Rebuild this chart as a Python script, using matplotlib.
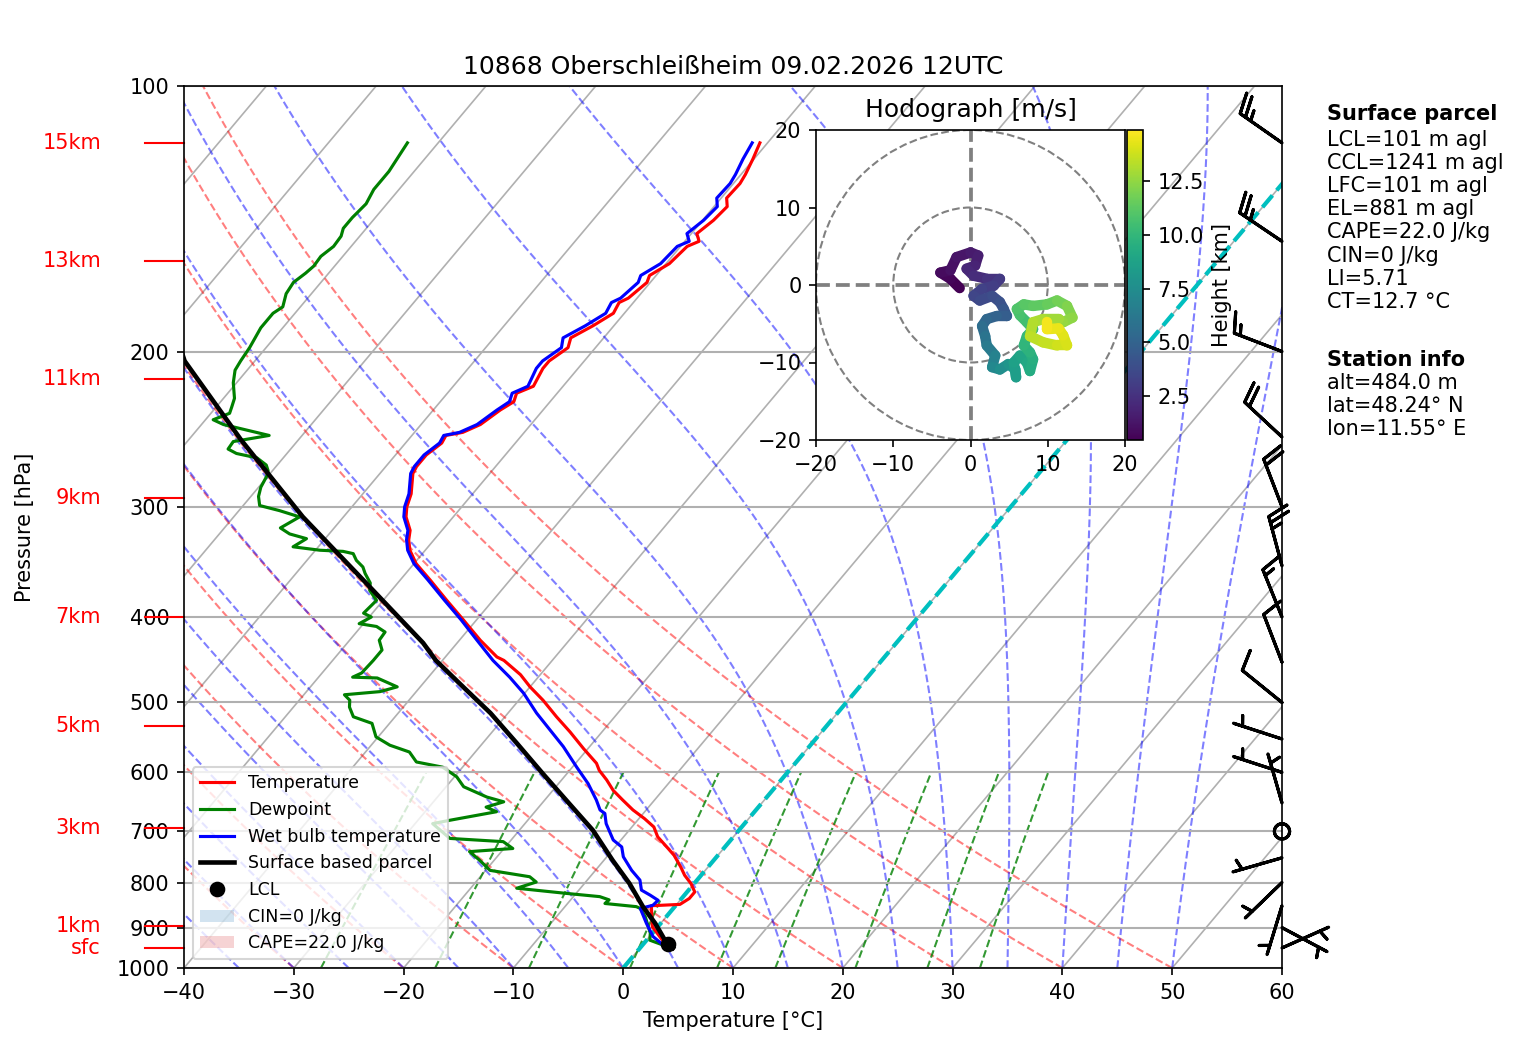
import numpy as np
import matplotlib
matplotlib.use("Agg")
import matplotlib.pyplot as plt
import matplotlib.transforms as mtransforms
from matplotlib.collections import LineCollection
from matplotlib.patches import Patch, Circle

SKEW = 67.5  # x shift in degC per decade of pressure

# Environment temperature
temp_p = [949, 946, 898, 850, 847, 834, 820, 802, 785, 768, 745, 729, 710, 692, 677, 662, 645, 629, 612, 597,
          586, 564, 540, 519, 497, 480, 465, 448, 444, 425, 403, 383, 363, 348, 336, 327, 319, 308, 300, 290,
          275, 270, 262, 254, 249, 247, 242, 233, 228, 223, 219, 209, 205, 198, 193, 187, 181, 176, 174, 167,
          164, 159, 152, 150, 147, 142, 137, 134, 129, 126, 121, 116]
temp_T = [3.0, 2.4, -0.5, -2.2, 0.3, 0.7, 0.7, -0.3, -1.5, -2.5, -4.0, -5.3, -6.9, -8.0, -9.5, -11.2, -12.9, -14.5, -15.9, -17.3,
          -18.1, -20.4, -22.9, -25.3, -27.8, -30.0, -31.8, -34.4, -35.3, -38.1, -41.2, -44.2, -47.3, -49.8, -51.4, -52.3, -52.9, -54.3, -55.0, -55.6,
          -57.0, -57.2, -57.2, -56.7, -56.9, -55.6, -54.6, -53.9, -53.3, -53.7, -52.7, -53.2, -53.2, -52.5, -53.0, -51.9, -51.0, -51.3, -50.8, -50.3,
          -50.6, -49.7, -49.4, -48.7, -49.5, -49.0, -48.8, -49.5, -49.4, -49.6, -50.1, -50.7]

# Wet bulb temperature
wb_p = [949, 942, 921, 890, 856, 849, 838, 827, 816, 795, 775, 748, 729, 716, 686, 668, 662, 645, 618, 592,
        561, 537, 514, 488, 468, 448, 425, 403, 383, 363, 348, 336, 327, 319, 308, 300, 290, 275, 270, 262,
        254, 249, 247, 242, 233, 228, 223, 219, 209, 205, 198, 193, 187, 181, 176, 174, 167, 164, 159, 152,
        150, 147, 142, 137, 134, 129, 126, 121, 116]
wb_T = [2.5, 1.9, 0.3, -1.3, -3.0, -2.1, -2.0, -3.1, -4.3, -5.2, -6.7, -8.5, -9.4, -10.7, -12.6, -13.5, -14.2, -15.3, -17.3, -19.6,
        -22.4, -24.9, -27.4, -30.1, -32.6, -35.4, -38.4, -41.4, -44.4, -47.5, -50.0, -51.6, -52.5, -53.1, -54.5, -55.2, -55.8, -57.2, -57.4, -57.4,
        -56.9, -57.1, -55.9, -54.9, -54.2, -53.7, -54.1, -53.2, -53.8, -53.8, -53.1, -53.7, -52.6, -51.7, -52.0, -51.5, -51.1, -51.4, -50.5, -50.3,
        -49.6, -50.4, -49.9, -49.7, -50.4, -50.3, -50.5, -51.0, -51.4]

# Dewpoint
dew_p = [949, 942, 930, 913, 875, 856, 852, 845, 837, 830, 823, 812, 799, 788, 775, 755, 738, 732, 719, 713,
         686, 680, 665, 657, 648, 640, 623, 607, 592, 584, 569, 559, 547, 528, 519, 506, 497, 490, 486, 480,
         469, 468, 463, 448, 436, 425, 416, 410, 407, 400, 396, 383, 373, 366, 357, 351, 345, 339, 337, 336,
         333, 326, 322, 317, 308, 303, 299, 292, 285, 277, 273, 269, 264, 261, 258, 253, 249, 242, 239, 235,
         231, 226, 217, 210, 205, 198, 188, 181, 178, 172, 167, 163, 160, 156, 152, 148, 145, 141, 136, 131,
         125, 116]
dew_T = [2.2, 1.9, 0.3, -0.2, -1.9, -3.0, -3.5, -6.6, -6.5, -7.6, -10.9, -15.8, -14.5, -15.5, -19.6, -21.3, -22.9, -19.2, -20.6, -25.7,
         -28.4, -27.1, -23.5, -24.8, -23.6, -25.5, -28.4, -29.8, -31.8, -34.6, -36.0, -38.3, -40.2, -41.6, -43.8, -44.9, -45.4, -46.3, -43.3, -42.1,
         -44.6, -46.9, -46.4, -46.3, -46.3, -47.3, -47.4, -48.6, -50.4, -49.8, -50.8, -50.6, -52.0, -52.5, -53.7, -54.4, -55.5, -56.3, -57.4, -59.6,
         -62.3, -61.7, -63.6, -64.9, -64.0, -66.3, -68.5, -69.3, -69.8, -70.1, -70.4, -71.0, -72.4, -74.6, -75.7, -75.8, -73.0, -78.0, -79.3, -78.3,
         -78.6, -79.0, -80.3, -81.1, -81.3, -81.5, -82.0, -82.0, -81.6, -82.3, -82.5, -82.1, -81.9, -82.0, -81.6, -81.7, -82.1, -82.1, -81.9, -82.3,
         -82.3, -82.8]

# Surface based parcel
parcel_p = [949, 938, 890, 852, 802, 755, 698, 651, 602, 556, 514, 480, 448, 428, 363, 308, 252, 205, 190]
parcel_T = [3.0, 2.1, -0.5, -2.9, -5.9, -9.2, -13.3, -17.5, -22.2, -26.9, -31.6, -36.1, -40.6, -43.1, -53.4, -63.7, -75.2, -86.4, -89.5]

lcl_p = 940
lcl_T = 2.3

# Wind barbs (direction in deg, speed in kt)
barb_p = [949, 900, 850, 800, 750, 700, 650, 600, 550, 500, 450, 400, 350, 300, 250, 200, 150, 116]
barb_dir = [66, 118, 197, 226, 254, 0, 344, 288, 288, 309, 339, 338, 345, 339, 313, 291, 304, 305]
barb_spd = [5, 5, 5, 5, 5, 0, 5, 5, 5, 10, 10, 15, 25, 20, 20, 15, 25, 25]

# Height markers
height_p = [949, 896, 694, 532, 400, 293, 215, 158, 116]
height_lbl = ['sfc', '1km', '3km', '5km', '7km', '9km', '11km', '13km', '15km']

# Hodograph (m/s) and height (km)
hodo_u = [-1.4, -2.6, -3.9, -2.6, -1.8, 0.0, 1.0, 0.6, -0.5, 0.4, 2.1, 3.8, 3.0, 1.5, 0.4, 1.2, 2.8, 3.8, 4.3, 4.7,
          3.4, 2.1, 1.5, 1.9, 2.1, 3.2, 2.8, 3.8, 4.9, 5.8, 5.9, 5.6, 6.4, 7.3, 7.7, 8.1, 7.7, 6.9, 7.3, 8.1,
          7.3, 6.4, 6.0, 6.9, 8.1, 9.9, 11.2, 12.5, 13.2, 12.0, 11.4, 9.4, 8.1, 7.7, 9.4, 11.2, 12.5, 12.0, 11.4, 9.9, 9.9]
hodo_v = [-0.4, 0.8, 1.6, 1.9, 3.6, 4.2, 3.8, 2.5, 2.1, 1.2, 0.8, 0.8, -0.1, -0.5, -1.4, -2.0, -1.4, -2.2, -3.1, -4.0,
          -4.0, -4.4, -5.3, -6.6, -7.8, -9.1, -10.6, -10.9, -10.2, -10.9, -11.9, -10.0, -9.1, -10.0, -11.1, -9.6, -8.7, -7.8, -6.6, -5.7,
          -4.8, -3.9, -3.1, -2.5, -2.7, -2.5, -2.0, -2.7, -4.2, -4.8, -4.4, -4.4, -4.8, -6.6, -7.4, -7.8, -7.8, -6.5, -5.6, -5.7, -4.8]
hodo_z = [0.5, 0.7, 0.9, 1.1, 1.3, 1.5, 1.7, 1.9, 2.1, 2.3, 2.6, 2.9, 3.1, 3.3, 3.5, 3.7, 3.9, 4.1, 4.4, 4.7,
          5.0, 5.3, 5.6, 6.0, 6.4, 6.8, 7.2, 7.6, 8.0, 8.3, 8.5, 8.7, 8.9, 9.1, 9.3, 9.5, 9.7, 9.9, 10.1, 10.3,
          10.5, 10.7, 10.9, 11.1, 11.3, 11.5, 11.8, 12.1, 12.4, 12.6, 12.8, 13.0, 13.2, 13.4, 13.6, 13.8, 14.0, 14.2, 14.4, 14.6, 14.8]

info_parcel = ['LCL=101 m agl', 'CCL=1241 m agl', 'LFC=101 m agl', 'EL=881 m agl',
               'CAPE=22.0 J/kg', 'CIN=0 J/kg', 'LI=5.71', 'CT=12.7 °C']
info_station = ['alt=484.0 m', 'lat=48.24° N', 'lon=11.55° E']

# reference line parameters
dry_t0 = np.arange(-40, 51, 10)
moist_t0 = np.arange(-40, 51, 5)
mix_w = [0.0004, 0.001, 0.002, 0.004, 0.007, 0.01, 0.016, 0.024, 0.032]
isotherms = np.arange(-150, 61, 10)


def skew(T, p):
    return np.asarray(T, dtype=float) + SKEW * np.log10(1000.0 / np.asarray(p, dtype=float))


def moist_lapse(tc, p):
    Rd, Cp, Lv, eps = 287.04, 1005.7, 2.501e6, 0.622
    t = tc + 273.15
    es = 6.112 * np.exp(17.67 * tc / (tc + 243.5))
    rs = eps * es / (p - es)
    return (Rd * t + Lv * rs) / (Cp + Lv * Lv * rs * eps / (Rd * t * t)) / p


W, H = 1517, 1054
fig = plt.figure(figsize=(W / 150, H / 150), dpi=150)
ax = fig.add_axes([184 / W, 1 - 968 / H, 1098 / W, 882 / H])
ax.set_yscale('log')

plevs = np.linspace(1000, 100, 181)

# background lines
for t in isotherms:
    ax.plot(skew(np.full_like(plevs, t), plevs), plevs, color='#b0b0b0', lw=0.8, zorder=1)
for t0 in dry_t0:
    tt = (t0 + 273.15) * (plevs / 1000.0) ** 0.2857 - 273.15
    ax.plot(skew(tt, plevs), plevs, color='r', ls='--', lw=1, alpha=0.5, zorder=1)
for t0 in moist_t0:
    tt = [float(t0)]
    for i in range(len(plevs) - 1):
        pa, dp = plevs[i], plevs[i + 1] - plevs[i]
        tc = tt[-1]
        k1 = moist_lapse(tc, pa)
        k2 = moist_lapse(tc + 0.5 * dp * k1, pa + 0.5 * dp)
        k3 = moist_lapse(tc + 0.5 * dp * k2, pa + 0.5 * dp)
        k4 = moist_lapse(tc + dp * k3, pa + dp)
        tt.append(tc + dp * (k1 + 2 * k2 + 2 * k3 + k4) / 6)
    ax.plot(skew(tt, plevs), plevs, color='b', ls='--', lw=1, alpha=0.5, zorder=1)
pmix = np.linspace(1000, 600, 41)
for w in mix_w:
    e = pmix * w / (0.622 + w)
    lg = np.log(e / 6.112)
    td = 243.5 * lg / (17.67 - lg)
    ax.plot(skew(td, pmix), pmix, color='g', ls='--', lw=1, alpha=0.8, zorder=1)
ax.plot(skew(np.zeros_like(plevs), plevs), plevs, color='c', ls='--', lw=2, zorder=2)

ax.grid(True, axis='y', color='#b0b0b0', lw=1.0)

# CAPE shading
pf = np.linspace(temp_p[0], 850, 60)
t_env = np.interp(-np.log(pf), -np.log(temp_p), temp_T)
t_par = np.interp(-np.log(pf), -np.log(parcel_p), parcel_T)
ax.fill_betweenx(pf, skew(t_env, pf), skew(t_par, pf), where=t_par > t_env,
                 facecolor='tab:red', alpha=0.2, interpolate=True, zorder=2)

# profiles
l_t, = ax.plot(skew(temp_T, temp_p), temp_p, color='r', lw=1.5, zorder=4)
l_d, = ax.plot(skew(dew_T, dew_p), dew_p, color='g', lw=1.5, zorder=4)
l_w, = ax.plot(skew(wb_T, wb_p), wb_p, color='b', lw=1.5, zorder=4)
l_p, = ax.plot(skew(parcel_T, parcel_p), parcel_p, color='k', lw=2.2, zorder=5)
l_l, = ax.plot(skew([lcl_T], [lcl_p]), [lcl_p], 'ko', ms=6.5, ls='none', zorder=6)

ax.set_ylim(1000, 100)
ax.set_xlim(-40, 60)
ax.set_yticks(np.arange(100, 1001, 100))
ax.set_yticklabels([str(v) for v in range(100, 1001, 100)])
ax.yaxis.set_minor_locator(matplotlib.ticker.NullLocator())
ax.set_xticks(np.arange(-40, 61, 10))
ax.set_xlabel('Temperature [°C]')
ax.set_ylabel('Pressure [hPa]')
ax.yaxis.set_label_coords(-0.136, 0.5)
ax.set_title('10868 Oberschleißheim 09.02.2026 12UTC')

# height markers
trans = mtransforms.blended_transform_factory(ax.transAxes, ax.transData)
for hp, lbl in zip(height_p, height_lbl):
    ax.plot([-0.0355, 0], [hp, hp], color='r', lw=1, transform=trans, clip_on=False)
    ax.text(-0.0756, hp, lbl, color='r', ha='right', va='center', fontsize=10, transform=trans)

# wind barbs on the right edge
rad = np.deg2rad(barb_dir)
bu = -np.array(barb_spd) * np.sin(rad)
bv = -np.array(barb_spd) * np.cos(rad)
ax.barbs(np.ones(len(barb_p)), barb_p, bu, bv, transform=trans, clip_on=False,
         length=7, lw=1.5, zorder=7)

legend_items = [l_t, l_d, l_w, l_p, l_l,
                Patch(facecolor='tab:blue', alpha=0.2),
                Patch(facecolor='tab:red', alpha=0.2)]
legend_names = ['Temperature', 'Dewpoint', 'Wet bulb temperature', 'Surface based parcel', 'LCL',
                'CIN=0 J/kg', 'CAPE=22.0 J/kg']
ax.legend(legend_items, legend_names, loc='lower left', fontsize='small')

# hodograph inset
hax = fig.add_axes([816 / W, 1 - 440 / H, 309 / W, 310 / H])
hax.set_facecolor('white')
for r in (10, 20):
    hax.add_patch(Circle((0, 0), r, fill=False, ls='--', color='gray', lw=1))
hax.axhline(0, color='gray', ls='--', lw=1.8)
hax.axvline(0, color='gray', ls='--', lw=1.8)
pts = np.column_stack([hodo_u, hodo_v]).reshape(-1, 1, 2)
segs = np.concatenate([pts[:-1], pts[1:]], axis=1)
lc = LineCollection(segs, cmap='viridis', lw=5, capstyle='round')
lc.set_array(np.array(hodo_z[:-1]))
lc.set_clim(0.48, 14.85)
hax.add_collection(lc)
hax.set_xlim(-20, 20)
hax.set_ylim(-20, 20)
hax.set_xticks([-20, -10, 0, 10, 20])
hax.set_yticks([-20, -10, 0, 10, 20])
hax.set_title('Hodograph [m/s]')
cax = fig.add_axes([1127 / W, 1 - 440 / H, 16 / W, 310 / H])
fig.colorbar(lc, cax=cax, label='Height [km]')

# info text
x_txt = 1327 / W
fig.text(x_txt, 1 - 114 / H, 'Surface parcel', fontweight='bold', fontsize=10, va='center')
for i, s in enumerate(info_parcel):
    fig.text(x_txt, 1 - (140 + 23.1 * i) / H, s, fontsize=10, va='center')
fig.text(x_txt, 1 - 360 / H, 'Station info', fontweight='bold', fontsize=10, va='center')
for i, s in enumerate(info_station):
    fig.text(x_txt, 1 - (383 + 23.1 * i) / H, s, fontsize=10, va='center')

fig.savefig('out.png', dpi=150)
